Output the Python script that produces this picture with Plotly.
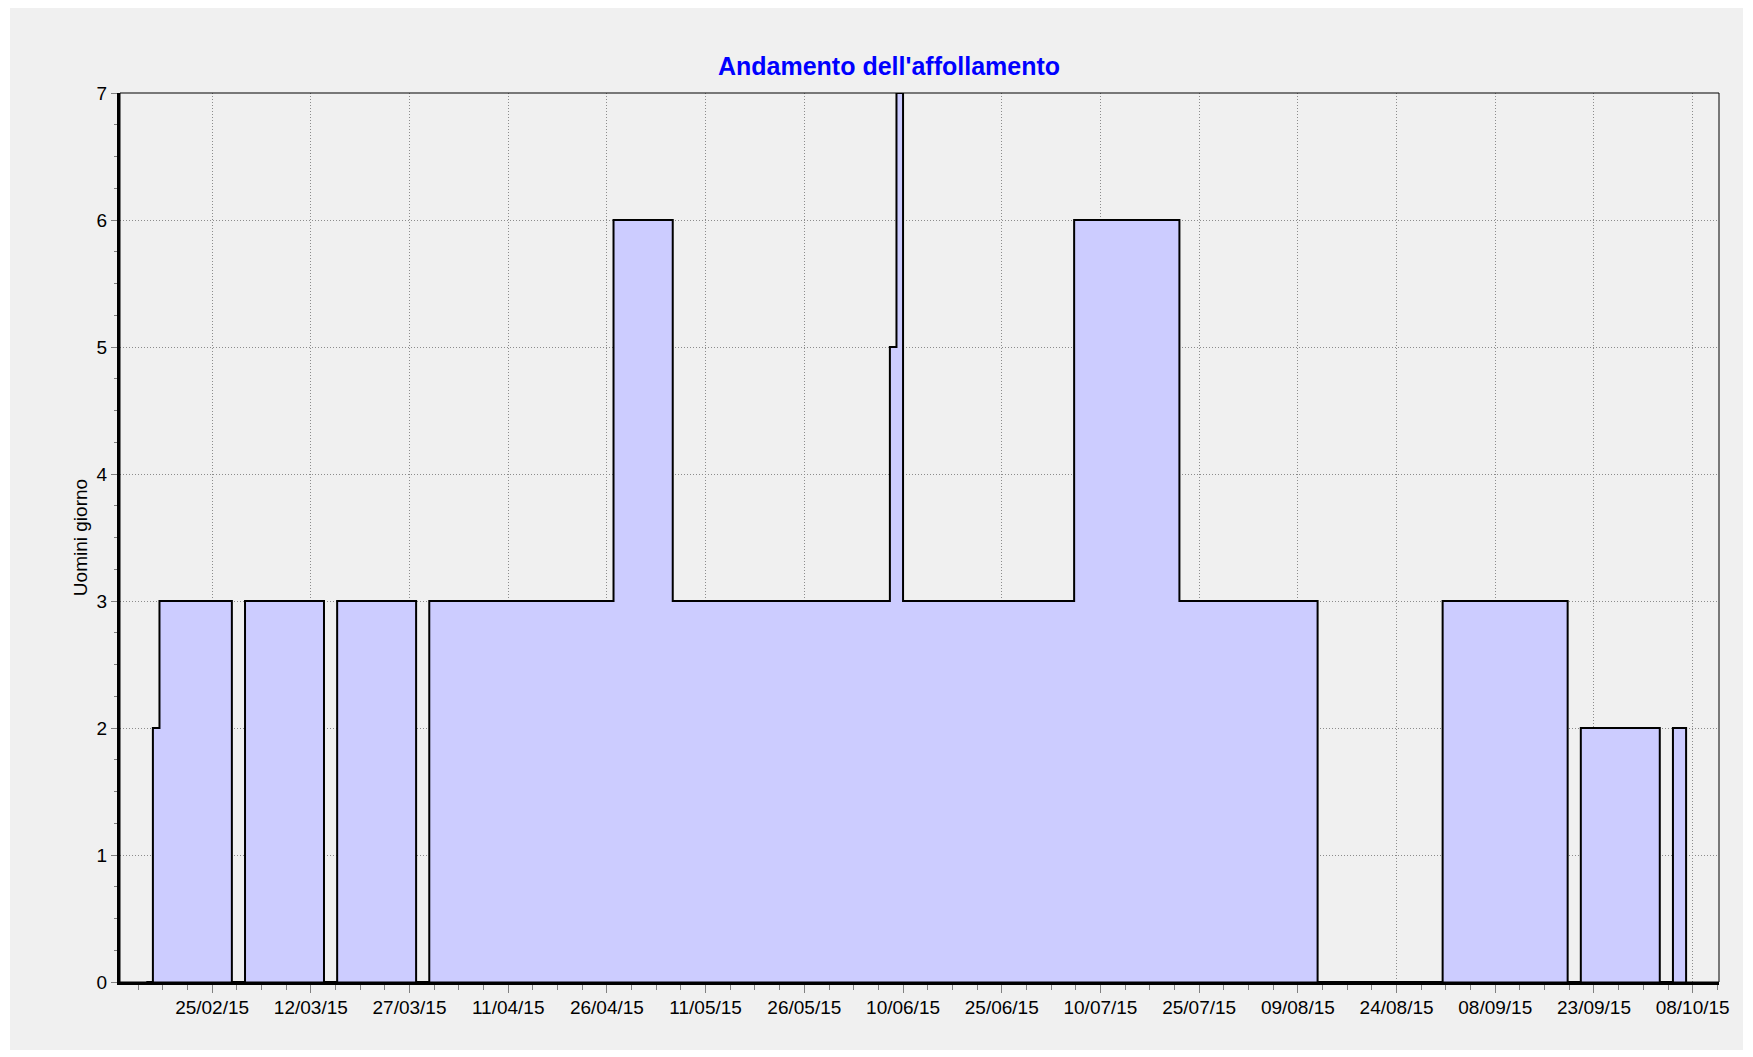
import plotly.graph_objects as go

# Step change points (value holds from date until next date)
step_dates = ["2015-02-15", "2015-02-16", "2015-02-17", "2015-02-28", "2015-03-02",
              "2015-03-14", "2015-03-16", "2015-03-28", "2015-03-30", "2015-04-27",
              "2015-05-06", "2015-06-08", "2015-06-09", "2015-06-10", "2015-07-06",
              "2015-07-22", "2015-08-12", "2015-08-31", "2015-09-19", "2015-09-21",
              "2015-10-03", "2015-10-05", "2015-10-07"]
step_values = [0, 2, 3, 0, 3, 0, 3, 0, 3, 6, 3, 5, 7, 3, 6, 3, 0, 3, 0, 2, 0, 2, 0]

x_range = ["2015-02-11", "2015-10-12"]
x_tick0 = "2015-02-25"
DAY_MS = 86400000

title_text = "Andamento dell'affollamento"
y_title = "Uomini giorno"

W, H = 1753, 1057
L, R, T, B = 120, 34, 93, 75
pw, ph = W - L - R, H - T - B

def px_x(p):
    return (p - L) / pw

def px_y(p):
    return (H - B - p) / ph

fig = go.Figure()
fig.add_trace(go.Scatter(
    x=step_dates, y=step_values,
    mode="lines", line=dict(shape="hv", color="black", width=2),
    fill="tozeroy", fillcolor="#ccccff",
    hoverinfo="skip", showlegend=False,
))

font = "Liberation Sans, Arial, sans-serif"
grid_dash = "1px,2px"
grid_col = "#8c8c8c"

fig.update_layout(
    width=W, height=H,
    margin=dict(l=L, r=R, t=T, b=B),
    paper_bgcolor="white",
    plot_bgcolor="#f0f0f0",
    showlegend=False,
    font=dict(family=font, size=19, color="black"),
    title=dict(text="<b>" + title_text + "</b>", x=889 / W, xanchor="center",
               y=1 - 66 / H, yanchor="middle", xref="container", yref="container",
               font=dict(family=font, size=25, color="#0000ff")),
    xaxis=dict(
        type="date", range=x_range,
        tick0=x_tick0, dtick=15 * DAY_MS, tickformat="%d/%m/%y",
        ticks="outside", ticklen=8, tickcolor="#808080", tickwidth=1,
        showgrid=True, gridcolor=grid_col, griddash=grid_dash, gridwidth=1,
        showline=True, linecolor="black", linewidth=3,
        zeroline=False,
        minor=dict(tick0=x_tick0, dtick=15 * DAY_MS / 4, ticks="outside", ticklen=5,
                   tickcolor="#808080", showgrid=False),
        tickfont=dict(size=19),
        ticklabelstandoff=-2,
    ),
    yaxis=dict(
        range=[0, 7], dtick=1, tick0=0,
        ticks="outside", ticklen=6, tickcolor="#808080", tickwidth=1,
        showgrid=True, gridcolor=grid_col, griddash=grid_dash, gridwidth=1,
        showline=True, linecolor="black", linewidth=3,
        zeroline=False,
        minor=dict(dtick=0.25, ticks="outside", ticklen=3, tickcolor="#808080", showgrid=False),
        title=dict(text=y_title, standoff=4, font=dict(size=19)),
        tickfont=dict(size=19),
    ),
    shapes=[
        dict(type="rect", xref="paper", yref="paper", layer="below",
             x0=px_x(10), x1=px_x(1743), y0=px_y(1050), y1=px_y(8),
             fillcolor="#f0f0f0", line=dict(width=0)),
        dict(type="rect", xref="paper", yref="paper", layer="above",
             x0=0, x1=1, y0=0, y1=1, line=dict(color="black", width=1)),
    ],
)

fig.write_html("out.html", config={"displayModeBar": False},
               post_script="document.body.style.margin='0';document.body.style.overflow='hidden';")
